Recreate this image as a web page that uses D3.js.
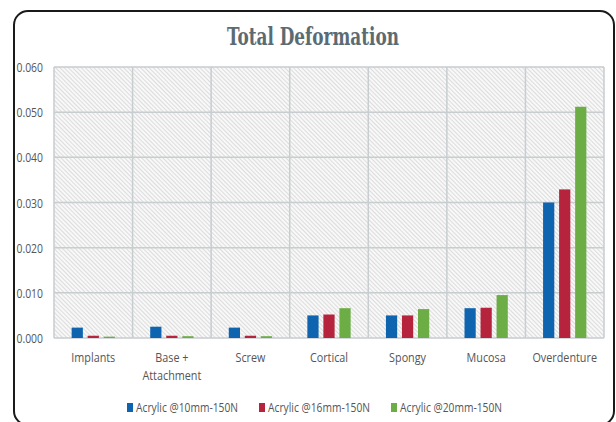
<!DOCTYPE html>
<html><head><meta charset="utf-8">
<script src="https://cdn.jsdelivr.net/npm/d3@7"></script>
<style>body{margin:0;background:#fff}svg{display:block}</style>
</head><body>
<svg id="c" width="616" height="422"></svg>
<script>
const categories = ["Implants", "Base +\nAttachment", "Screw", "Cortical", "Spongy", "Mucosa", "Overdenture"];
const seriesNames = ["Acrylic @10mm-150N", "Acrylic @16mm-150N", "Acrylic @20mm-150N"];
const acrylic10 = [0.0023, 0.0025, 0.0023, 0.0050, 0.0050, 0.0066, 0.0300];
const acrylic16 = [0.0005, 0.0005, 0.0005, 0.0052, 0.0050, 0.0067, 0.0329];
const acrylic20 = [0.0003, 0.0004, 0.0004, 0.0066, 0.0064, 0.0095, 0.0512];
const yTicks = [0, 0.01, 0.02, 0.03, 0.04, 0.05, 0.06];
const colors = ["#0f64b0", "#b5243c", "#6cad46"];

const series = [acrylic10, acrylic16, acrylic20];
const svg = d3.select("#c");
const pL = 54, pR = 604, pT = 67, pB = 338;
const fontF = "'Open Sans',sans-serif";
const squeeze = 0.8;

function narrow(sel) {
  sel.each(function() {
    const w = this.getComputedTextLength();
    d3.select(this).attr("textLength", w * squeeze).attr("lengthAdjust", "spacingAndGlyphs");
  });
  return sel;
}

// frame
svg.append("rect").attr("x", 14).attr("y", 11).attr("width", 600).attr("height", 414)
  .attr("rx", 14).attr("fill", "#fff").attr("stroke", "#1a1a1a").attr("stroke-width", 2);

// hatch pattern
const defs = svg.append("defs");
const pat = defs.append("pattern").attr("id", "hatch").attr("patternUnits", "userSpaceOnUse")
  .attr("width", 3).attr("height", 3).attr("patternTransform", "rotate(-45)");
pat.append("rect").attr("width", 3).attr("height", 3).attr("fill", "#f8f8f8");
pat.append("line").attr("x1", 0).attr("y1", 0).attr("x2", 0).attr("y2", 3)
  .attr("stroke", "#c9c9c9").attr("stroke-width", 1.2);

svg.append("text").attr("x", 313).attr("y", 45).attr("text-anchor", "middle")
  .attr("font-family", "'DejaVu Serif Condensed','DejaVu Serif',serif").attr("font-weight", "bold")
  .attr("font-size", 25).attr("fill", "#5b6b73")
  .attr("textLength", 172).attr("lengthAdjust", "spacingAndGlyphs")
  .text("Total Deformation");

const x = d3.scaleBand().domain(categories).range([pL, pR]);
const y = d3.scaleLinear().domain([0, 0.06]).range([pB, pT]);

svg.append("rect").attr("x", pL).attr("y", pT).attr("width", pR - pL).attr("height", pB - pT)
  .attr("fill", "url(#hatch)");

// gridlines
const g = svg.append("g");
g.selectAll(".hg").data(yTicks).join("line")
  .attr("x1", pL).attr("x2", pR).attr("y1", d => y(d)).attr("y2", d => y(d))
  .attr("stroke", "#c8cdd0").attr("stroke-width", 1.5);
const bounds = categories.map(c => x(c)).concat([pR]);
g.selectAll(".vg").data(bounds).join("line")
  .attr("x1", d => d).attr("x2", d => d).attr("y1", pT).attr("y2", pB)
  .attr("stroke", "#c8cdd0").attr("stroke-width", 1.5);

// y axis labels
narrow(svg.selectAll(".yl").data(yTicks).join("text")
  .attr("x", 43).attr("y", d => y(d) + 5).attr("text-anchor", "end")
  .attr("font-family", fontF).attr("font-size", 13).attr("fill", "#555")
  .text(d => d3.format(".3f")(d)));

// bars
const inner = d3.scaleBand().domain([0, 1, 2]).range([0, x.bandwidth()]).paddingInner(0.3).paddingOuter(1.1);
series.forEach((s, si) => {
  svg.append("g").selectAll("rect").data(s).join("rect")
    .attr("x", (d, i) => x(categories[i]) + inner(si))
    .attr("width", inner.bandwidth())
    .attr("y", d => y(d)).attr("height", d => pB - y(d))
    .attr("fill", colors[si]);
});

// category labels
categories.forEach(c => {
  const lines = c.split("\n");
  lines.forEach((l, i) => {
    narrow(svg.append("text").attr("x", x(c) + x.bandwidth() / 2).attr("y", 362 + i * 18)
      .attr("text-anchor", "middle").attr("font-family", fontF).attr("font-size", 13.5).attr("fill", "#555")
      .text(l));
  });
});

// legend
const legX = [127, 259, 391];
seriesNames.forEach((n, i) => {
  svg.append("rect").attr("x", legX[i]).attr("y", 403).attr("width", 6).attr("height", 9).attr("fill", colors[i]);
  svg.append("text").attr("x", legX[i] + 9).attr("y", 412).attr("font-family", fontF)
    .attr("font-size", 13.5).attr("fill", "#555")
    .attr("textLength", 102).attr("lengthAdjust", "spacingAndGlyphs").text(n);
});
</script>
</body></html>
